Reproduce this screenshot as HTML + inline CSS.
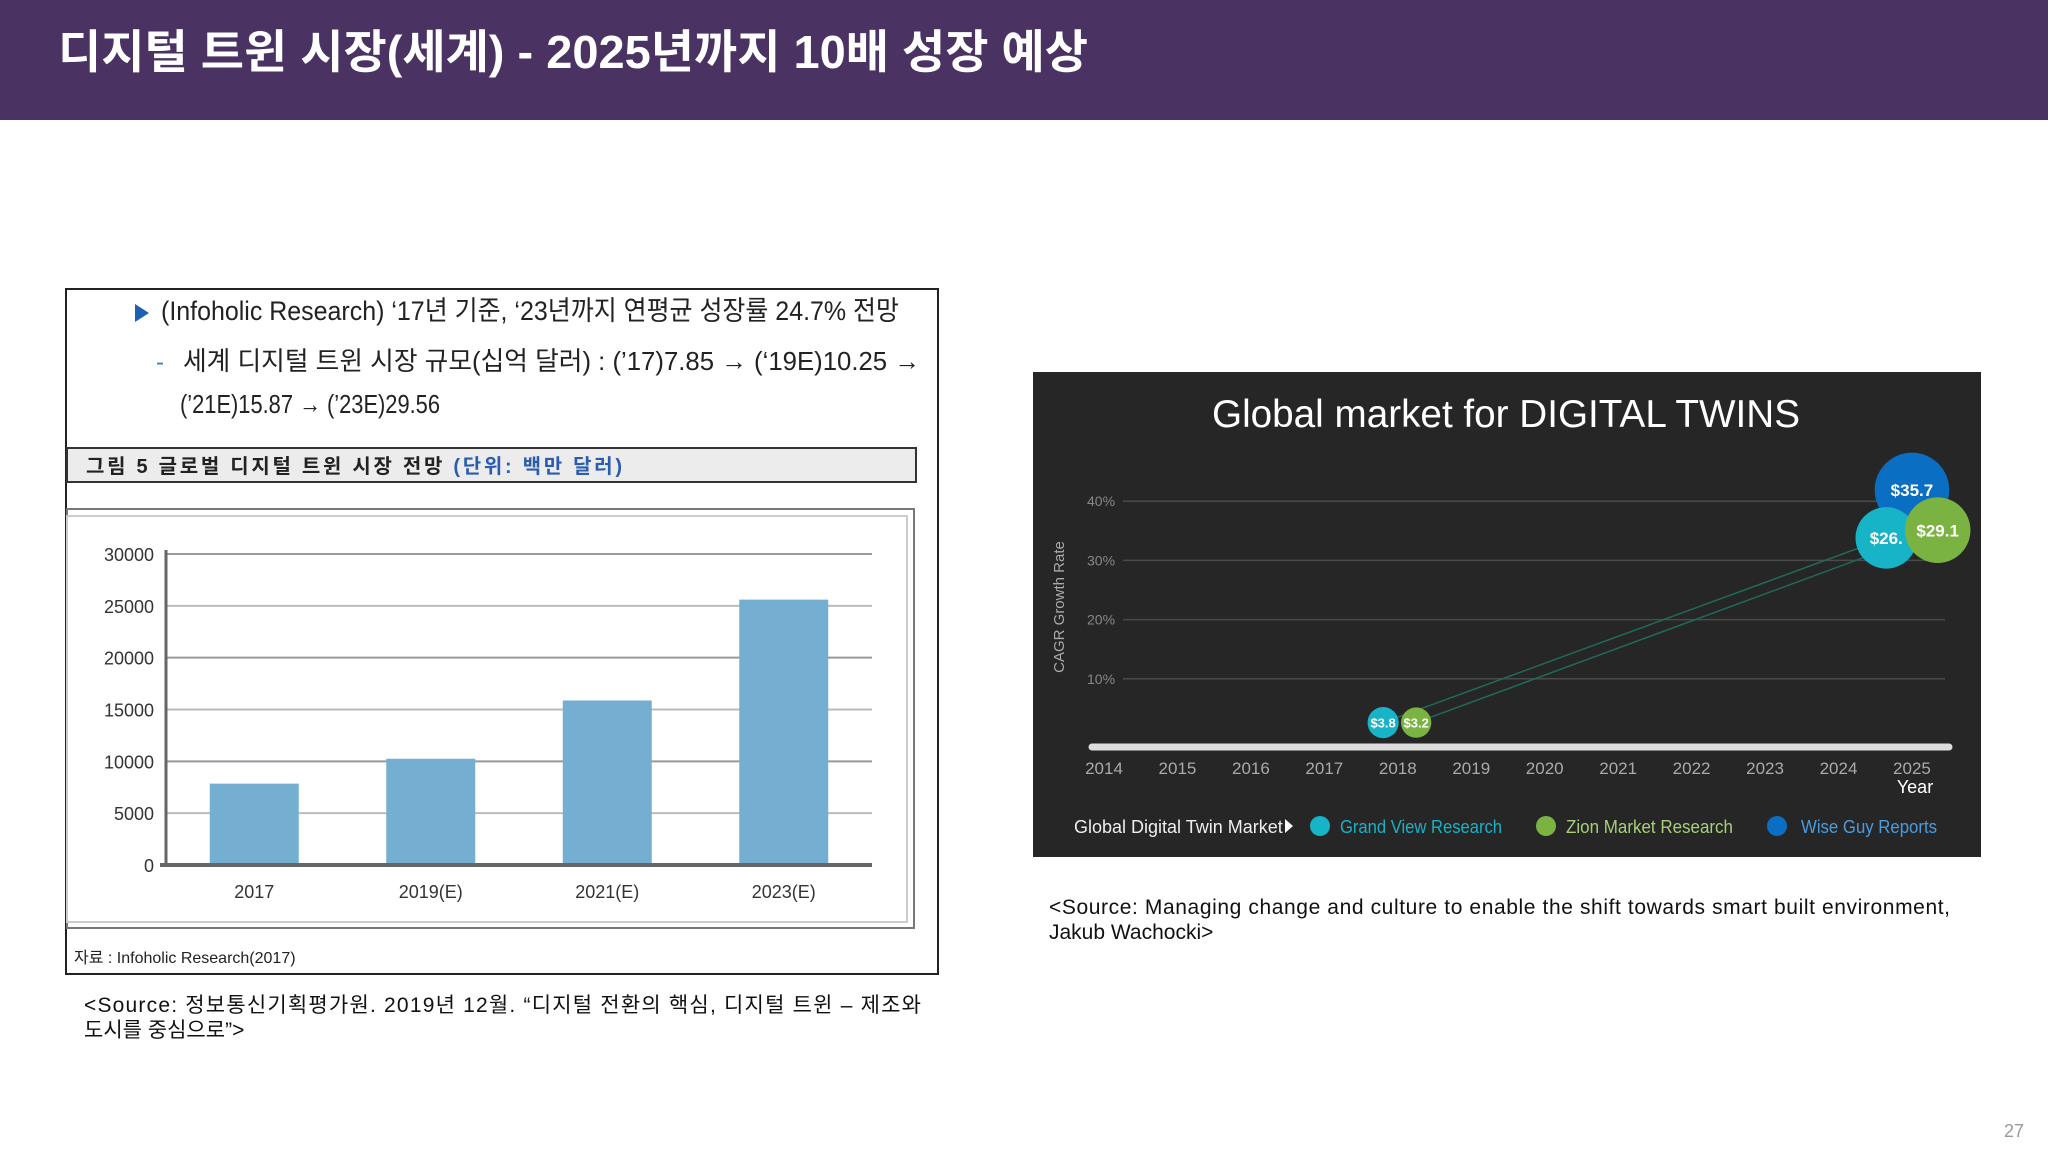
<!DOCTYPE html>
<html><head><meta charset="utf-8">
<style>
html,body{margin:0;padding:0;background:#fff;}
svg{display:block;}
text{font-family:"Liberation Sans","Noto Sans CJK KR",sans-serif;}
</style></head>
<body>
<svg id="page" width="2048" height="1152" viewBox="0 0 2048 1152" xmlns="http://www.w3.org/2000/svg">
<rect x="0" y="0" width="2048" height="120" fill="#4a3262"/>
<text x="58" y="68" font-size="46" font-weight="bold" fill="#fff" textLength="1030" lengthAdjust="spacingAndGlyphs">디지털 트윈 시장(세계)  -  2025년까지 10배 성장 예상</text>

<!-- left box -->
<rect x="66" y="289" width="872" height="685" fill="#fff" stroke="#222" stroke-width="2"/>
<polygon points="135,304 135,322 149,313" fill="#1f5fb4"/>
<text x="161" y="320" font-size="27" font-family="Liberation Serif,Noto Serif CJK SC,serif" fill="#222" textLength="738" lengthAdjust="spacingAndGlyphs">(Infoholic Research) ‘17년 기준, ‘23년까지 연평균 성장률 24.7% 전망</text>
<text x="156" y="370" font-size="24" fill="#3a7bd5">-</text>
<text x="183" y="370" font-size="26" font-family="Liberation Serif,Noto Serif CJK SC,serif" fill="#222" textLength="737" lengthAdjust="spacingAndGlyphs">세계 디지털 트윈 시장 규모(십억 달러) : (’17)7.85 → (‘19E)10.25 →</text>
<text x="180" y="413" font-size="26" font-family="Liberation Serif,Noto Serif CJK SC,serif" fill="#222" textLength="260" lengthAdjust="spacingAndGlyphs">(’21E)15.87 → (’23E)29.56</text>
<rect x="67" y="448" width="849" height="34" fill="#ececec" stroke="#333" stroke-width="2"/>
<text x="86" y="473" font-size="20" font-weight="bold" fill="#222" textLength="536" lengthAdjust="spacing">그림 5    글로벌 디지털 트윈 시장 전망 <tspan fill="#2a5db0">(단위: 백만 달러)</tspan></text>
<rect x="67" y="509" width="847" height="419" fill="#fff" stroke="#777" stroke-width="2"/>
<rect x="67" y="516" width="840" height="406" fill="none" stroke="#ccc" stroke-width="2"/>
<g id="bars"></g>
<text x="74" y="963" font-size="16" fill="#222">자료 :   Infoholic Research(2017)</text>
<text x="84" y="1012" font-size="21" fill="#111" textLength="837" lengthAdjust="spacing">&lt;Source: 정보통신기획평가원. 2019년 12월. “디지털 전환의 핵심, 디지털 트윈 – 제조와</text>
<text x="84" y="1037" font-size="21" fill="#111">도시를 중심으로”&gt;</text>

<!-- right panel -->
<rect x="1033" y="372" width="948" height="485" fill="#262626"/>
<text x="1506" y="427" font-size="39" fill="#fff" text-anchor="middle" font-family="DejaVu Sans,sans-serif" textLength="588" lengthAdjust="spacingAndGlyphs">Global market for DIGITAL TWINS</text>
<g id="bubbles"></g>
<text transform="translate(1064,607) rotate(-90)" font-size="15" fill="#aaa" text-anchor="middle" font-family="DejaVu Sans,sans-serif">CAGR  Growth Rate</text>
<text x="1915" y="793" font-size="18" fill="#fff" text-anchor="middle">Year</text>
<g font-size="18">
<text x="1074" y="833" fill="#eee">Global Digital Twin Market</text>
<polygon points="1285,819 1285,833 1293,826" fill="#fff"/>
<circle cx="1320" cy="826" r="10" fill="#17b3c6"/>
<text x="1340" y="833" fill="#17b3c6" textLength="162" lengthAdjust="spacingAndGlyphs">Grand View Research</text>
<circle cx="1546" cy="826" r="10" fill="#7ab342"/>
<text x="1566" y="833" fill="#a8cf7a" textLength="167" lengthAdjust="spacingAndGlyphs">Zion Market Research</text>
<circle cx="1777" cy="826" r="10" fill="#0a6fc2"/>
<text x="1801" y="833" fill="#4a9be0" textLength="136" lengthAdjust="spacingAndGlyphs">Wise Guy Reports</text>
</g>
<text x="1049" y="914" font-size="21" fill="#111" textLength="901" lengthAdjust="spacing">&lt;Source: Managing change and culture to enable the shift towards smart built environment,</text>
<text x="1049" y="939" font-size="21" fill="#111">Jakub Wachocki&gt;</text>
<text x="2004" y="1137" font-size="18" fill="#999">27</text>
</svg>
<script>
const NS='http://www.w3.org/2000/svg';
// bar chart data
const barCategories=['2017','2019(E)','2021(E)','2023(E)'];
const barValues=[7850,10250,15870,25600];
const barTicks=[0,5000,10000,15000,20000,25000,30000];
// bubble chart data
const bubbleYears=[2014,2015,2016,2017,2018,2019,2020,2021,2022,2023,2024,2025];
const cagrTicks=[10,20,30,40];
const bubbleSeries=['Grand View Research','Zion Market Research','Wise Guy Reports','Grand View Research','Zion Market Research'];
const bubbleX=[2017.8,2018.25,2025,2024.65,2025.35];
const bubbleY=[2.6,2.6,41.9,33.8,35.1];
const bubbleLabels=['$3.8','$3.2','$35.7','$26.','$29.1'];
const bubbleSizes=[3.8,3.2,35.7,26.1,29.1];
const seriesColors={'Grand View Research':'#17b3c6','Zion Market Research':'#7ab342','Wise Guy Reports':'#0a6fc2'};

function mk(tag,attrs,parent,txt){const e=document.createElementNS(NS,tag);for(const k in attrs)e.setAttribute(k,attrs[k]);if(txt!==undefined)e.textContent=txt;parent.appendChild(e);return e;}

// bar chart
(function(){
const g=document.getElementById('bars');
const x0=166,x1=872,yTop=554,yBot=865,vmax=30000;
const ys=v=>yBot-(v/vmax)*(yBot-yTop);
const band=(x1-x0)/barCategories.length;
const xc=i=>x0+band*(i+0.5);
barTicks.forEach(t=>{
 const l=mk('line',{x1:x0,x2:x1,y1:ys(t),y2:ys(t),stroke:t%10000===0&&t>0?'#999':'#bbb','stroke-width':2},g);
 
 
 const tx=mk('text',{x:x0-12,y:ys(t)+7,'font-size':18,'text-anchor':'end',fill:'#333'},g,String(t));
 
 
});
barValues.forEach((v,i)=>{
 const r=mk('rect',{x:xc(i)-44.5,y:ys(v),width:89,height:yBot-ys(v),fill:'#74afd2'},g);
 
 
 const t=mk('text',{x:xc(i),y:898,'font-size':18,'text-anchor':'middle',fill:'#333'},g,barCategories[i]);
 
 
});
const ax=mk('line',{x1:x0,x2:x0,y1:yTop-4,y2:yBot,stroke:'#666','stroke-width':3},g);


const bx=mk('line',{x1:x0-6,x2:x1,y1:yBot,y2:yBot,stroke:'#666','stroke-width':4},g);


})();

// bubble chart
(function(){
const g=document.getElementById('bubbles');
const xs=y=>1104+(y-2014)*73.45;
const ys=v=>738-v*5.92;
cagrTicks.forEach(t=>{
 const l=mk('line',{x1:1123,x2:1945,y1:ys(t),y2:ys(t),stroke:'#4a4a4a','stroke-width':1.5},g);
 
 
 const tx=mk('text',{x:1087,y:ys(t)+5,'font-size':14,fill:'#888'},g,t+'%');
 
 
});
const base=mk('line',{x1:1092,x2:1949,y1:747,y2:747,stroke:'#ddd','stroke-width':7,'stroke-linecap':'round'},g);


bubbleYears.forEach(y=>{
 const t=mk('text',{x:xs(y),y:774,'font-size':17,'text-anchor':'middle',fill:'#aaa'},g,String(y));
 
 
});
[[0,3],[1,4]].forEach(p=>{
 const l=mk('line',{x1:xs(bubbleX[p[0]]),y1:ys(bubbleY[p[0]]),x2:xs(bubbleX[p[1]]),y2:ys(bubbleY[p[1]]),stroke:'#1f6b5c','stroke-width':1.5},g);
 
 
});
bubbleX.forEach((bx,i)=>{
 const r=13+bubbleSizes[i]*0.68;
 const c=mk('circle',{cx:xs(bx),cy:ys(bubbleY[i]),r:r,fill:seriesColors[bubbleSeries[i]]},g);
 
 
});
bubbleX.forEach((bx,i)=>{
 const fs=bubbleSizes[i]<10?13:17;
 const t=mk('text',{x:xs(bx),y:ys(bubbleY[i])+fs*0.36,'font-size':fs,'font-weight':'bold','text-anchor':'middle',fill:'#fff'},g,bubbleLabels[i]);
 
 
});
})();
</script>
</body></html>
